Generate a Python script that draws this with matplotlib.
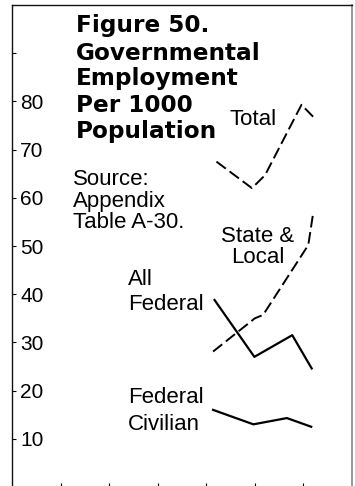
import matplotlib.pyplot as plt

# Employment per 1000 population
total_years = [1952.1, 1959.4, 1962.1, 1969.6, 1972.2]
total_vals = [67.5, 62.0, 64.7, 79.3, 76.6]

state_local_years = [1951.4, 1960.0, 1961.7, 1971.0, 1972.0]
state_local_vals = [28.1, 35.0, 35.7, 50.2, 56.8]

all_federal_years = [1951.7, 1959.9, 1967.7, 1971.7]
all_federal_vals = [38.8, 27.0, 31.5, 24.6]

fed_civilian_years = [1951.4, 1959.7, 1966.6, 1971.6]
fed_civilian_vals = [16.0, 13.0, 14.3, 12.5]

y_ticks = [10, 20, 30, 40, 50, 60, 70, 80, 90]
y_labels = ['10', '20', '30', '40', '50', '60', '70', '80', '']
x_ticks = [1920, 1930, 1940, 1950, 1960, 1970]

W, H = 355, 486
fig = plt.figure(figsize=(W / 100, H / 100), dpi=100)
ax = fig.add_axes([12 / W, -1 / H, 340 / W, 482 / H])
ax.set_xlim(1910, 1980)
ax.set_ylim(0, 100)

ax.plot(total_years, total_vals, color='black', lw=1.4, dashes=(6, 2.4))
ax.plot(state_local_years, state_local_vals, color='black', lw=1.4, dashes=(6, 2.4))
ax.plot(all_federal_years, all_federal_vals, color='black', lw=1.6)
ax.plot(fed_civilian_years, fed_civilian_vals, color='black', lw=1.6)

ax.set_yticks(y_ticks)
ax.set_yticklabels(y_labels, family='Liberation Sans', fontsize=15, ha='left')
ax.tick_params(axis='y', direction='in', length=3, width=0.8, pad=-5.8)
ax.set_xticks(x_ticks)
ax.set_xticklabels([])
ax.tick_params(axis='x', direction='in', length=3, width=0.8)

for side in ['left', 'top', 'bottom']:
    ax.spines[side].set_color('#111111')
    ax.spines[side].set_linewidth(1.0)
ax.spines['right'].set_color('#888888')
ax.spines['right'].set_linewidth(1.2)


def put(x, y, s, **kw):
    fig.text(x / W, 1 - y / H, s, va='baseline', **kw)


title_lines = ['Figure 50.', 'Governmental', 'Employment', 'Per 1000', 'Population']
for line, base in zip(title_lines, [32, 60, 85, 112, 138]):
    put(76, base, line, family='DejaVu Sans', fontweight='bold', fontsize=16.7)

text_font = dict(family='Liberation Sans', fontsize=16)
for line, base in zip(['Source:', 'Appendix', 'Table A-30.'], [185, 206.5, 228]):
    put(73, base, line, **text_font)

put(230, 125, 'Total', **text_font)
put(258, 242, 'State &', ha='center', **text_font)
put(258, 263, 'Local', ha='center', **text_font)
put(128, 285, 'All', **text_font)
put(128, 310, 'Federal', **text_font)
put(128, 403, 'Federal', **text_font)
put(128, 430, 'Civilian', **text_font)

fig.savefig('out.png', dpi=100)
